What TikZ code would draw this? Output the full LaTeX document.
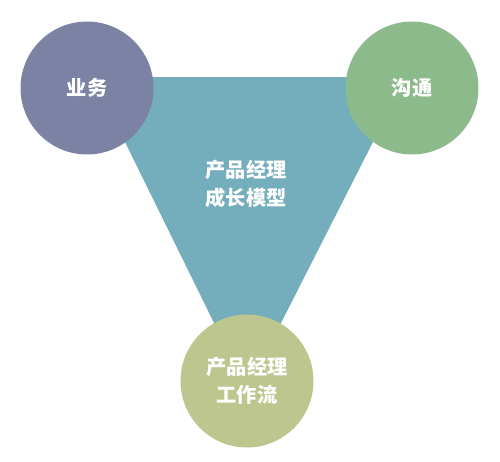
\documentclass[tikz,border=0pt]{standalone}
\usepackage{fontspec}
\newfontfamily\cjk{Noto Sans CJK SC}
\definecolor{yewu}{HTML}{7B82A3}
\definecolor{goutong}{HTML}{8DBA8A}
\definecolor{liucheng}{HTML}{BDC68F}
\definecolor{moxing}{HTML}{74ADBB}
\begin{document}
\begin{tikzpicture}[x=0.02cm, y=-0.02cm, font=\cjk\bfseries\fontsize{11.5}{16}\selectfont]
  \tikzstyle{ball}=[circle, minimum size=2.66cm, inner sep=0pt, text=white, align=center]
  \useasboundingbox (0,0) rectangle (500,461);

  % --- tam giac nen ---
  \coordinate (tl) at (93,77);
  \coordinate (tr) at (406,77);
  \coordinate (bt) at (247,390);
  \fill[moxing] (tl) -- (tr) -- (bt) -- cycle;
  \node[text=white, align=center] (mid) at (246,184) {产品经理\\成长模型};

  % --- ba hinh tron ---
  \node[ball, fill=yewu]     (biz)  at (87,88)   {业务};
  \node[ball, fill=goutong]  (comm) at (412,88)  {沟通};
  \node[ball, fill=liucheng] (flow) at (247,381) {产品经理\\工作流};
\end{tikzpicture}
\end{document}
